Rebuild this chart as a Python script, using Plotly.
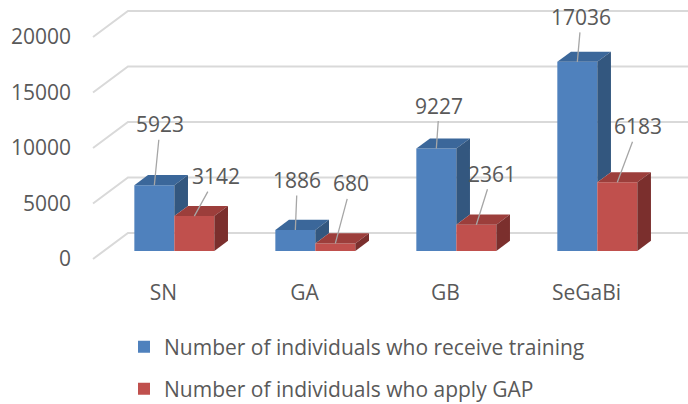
import plotly.graph_objects as go

categories = ["SN", "GA", "GB", "SeGaBi"]
training = [5923, 1886, 9227, 17036]
apply_gap = [3142, 680, 2361, 6183]
series_names = ["Number of individuals who receive training",
                "Number of individuals who apply GAP"]
y_ticks = [0, 5000, 10000, 15000, 20000]

# pseudo-3D projection parameters (in data units)
D = 2342.0      # vertical shift of full depth (value units)
DX = 0.248      # horizontal shift of full depth (category units)
d0, d1 = 0.31, 0.70   # bar front / back depth fractions
W = 0.2837      # bar width (category units)

front = ["#4F81BD", "#C0504D"]
top = ["#3B679A", "#9C3E3B"]
side = ["#33577F", "#7B2F2D"]
txt = "#595959"
FONT = "Open Sans"

fig = go.Figure()

# gridlines on back wall + side wall (shapes below traces)
for t in y_ticks:
    fig.add_shape(type="path", xref="x", yref="y", layer="below",
                  path=f"M {-0.5} {t} L {-0.5 + DX} {t + D} L {3.5 + DX} {t + D}",
                  line=dict(color="#D9D9D9", width=2))

series = [training, apply_gap]
for s, vals in enumerate(series):
    xs = []
    for i, v in enumerate(vals):
        xs.append(i + (s - 0.5) * W + d0 * DX)
    fig.add_trace(go.Bar(
        x=xs, y=vals, base=[d0 * D] * len(vals), width=W,
        marker=dict(color=front[s], line=dict(width=0)),
        name=series_names[s], legend="legend" if s == 0 else "legend2",
        hoverinfo="skip"))

ddx = (d1 - d0) * DX
ddy = (d1 - d0) * D
for i in range(len(categories)):
    for s, vals in enumerate(series):
        v = vals[i]
        xl = i + (s - 1) * W + d0 * DX
        xr = xl + W
        y0 = v + d0 * D
        # top face
        fig.add_trace(go.Scatter(
            x=[xl, xr, xr + ddx, xl + ddx, xl],
            y=[y0, y0, y0 + ddy, y0 + ddy, y0],
            fill="toself", fillcolor=top[s], mode="lines",
            line=dict(width=0, color=top[s]), showlegend=False, hoverinfo="skip"))
        # side face (visible part)
        if s == 0:
            low = apply_gap[i] + d0 * D
        else:
            low = d0 * D
        fig.add_trace(go.Scatter(
            x=[xr, xr + ddx, xr + ddx, xr, xr],
            y=[low, low + ddy, y0 + ddy, y0, low],
            fill="toself", fillcolor=side[s], mode="lines",
            line=dict(width=0, color=side[s]), showlegend=False, hoverinfo="skip"))

# data labels with leader lines
offsets = [
    [(6, -61), (2, -50), (3, -43), (4, -45)],
    [(22, -40), (16, -60), (16, -51), (21, -56)],
]
for s, vals in enumerate(series):
    for i, v in enumerate(vals):
        xc = i + (s - 0.5) * W + d0 * DX
        ax, ay = offsets[s][i]
        fig.add_annotation(x=xc, y=v + d0 * D, xref="x", yref="y",
                           text=str(v), showarrow=True, arrowhead=0,
                           arrowwidth=1.3, arrowcolor="#A6A6A6",
                           ax=ax, ay=ay, standoff=0,
                           font=dict(family=FONT, size=21, color=txt))

fig.update_layout(
    width=688, height=404,
    margin=dict(l=88, r=0, t=5, b=134, autoexpand=False),
    paper_bgcolor="white", plot_bgcolor="white",
    barmode="overlay",
    showlegend=True,
    xaxis=dict(range=[-0.5355, 3.72], tickmode="array",
               tickvals=list(range(len(categories))), ticktext=categories,
               showgrid=False, zeroline=False, showline=False, ticks="",
               tickfont=dict(family=FONT, size=21, color=txt),
               ticklabelstandoff=8, fixedrange=True, automargin=False),
    yaxis=dict(range=[-991, 22883], tickmode="array", tickvals=y_ticks,
               ticktext=[str(t) for t in y_ticks],
               showgrid=False, zeroline=False, showline=False, ticks="",
               tickfont=dict(family=FONT, size=21, color=txt),
               ticklabelstandoff=16, fixedrange=True, automargin=False),
    legend=dict(x=124 / 688, y=(404 - 347) / 404, xref="container", yref="container",
                xanchor="left", yanchor="middle",
                font=dict(family=FONT, size=21, color=txt),
                bgcolor="rgba(0,0,0,0)"),
    legend2=dict(x=124 / 688, y=(404 - 389) / 404, xref="container", yref="container",
                 xanchor="left", yanchor="middle",
                 font=dict(family=FONT, size=21, color=txt),
                 bgcolor="rgba(0,0,0,0)"),
)

fig.write_html("out.html", config={"displayModeBar": False},
               post_script="document.body.style.margin='0';document.body.style.overflow='hidden';")
